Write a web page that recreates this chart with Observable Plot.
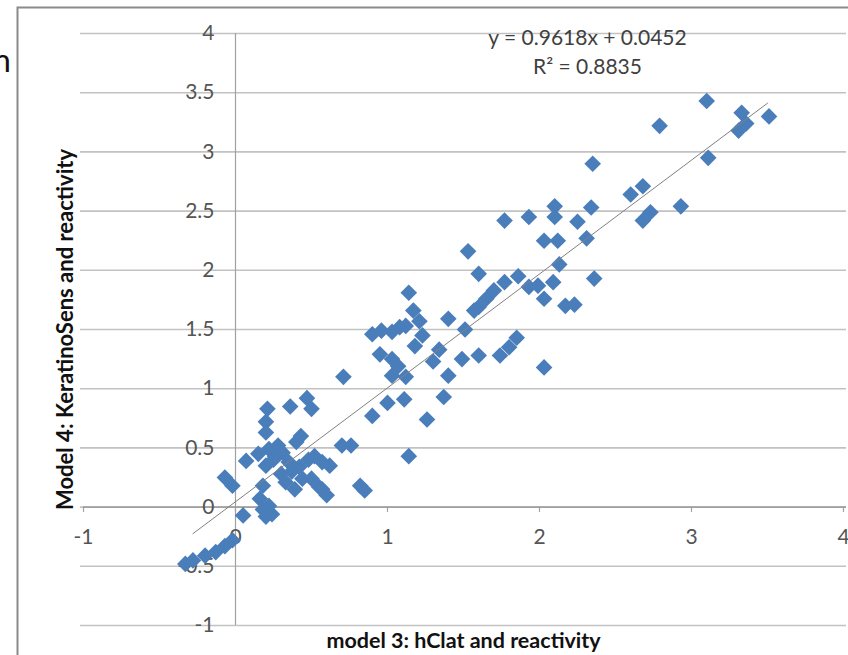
<!DOCTYPE html>
<html><head><meta charset="utf-8">
<script src="https://cdn.jsdelivr.net/npm/d3@7"></script>
<script src="https://cdn.jsdelivr.net/npm/@observablehq/plot@0.6"></script>
<style>body{margin:0;background:#fff;} svg{display:block;overflow:hidden}</style>
</head><body><div id="chart"></div>
<script>
// model 3 (hClat and reactivity) values
const xValues = [3.10, 2.79, 3.33, 3.51, 3.31, 3.36, 3.11, 2.35, 2.93, 2.60, 2.68, 2.68, 2.73, 2.34, 2.25, 2.31, 2.36, 2.23, 2.10, 2.10,
  1.77, 1.93, 2.03, 2.12, 1.53, 1.60, 1.86, 2.13, 2.09, 1.99, 1.93, 2.03, 2.17, 1.77, 1.70, 1.65, 1.60, 1.57, 1.14, 1.17,
  1.21, 1.12, 1.23, 1.18, 0.96, 1.03, 1.08, 0.90, 1.40, 1.51, 0.95, 1.03, 1.07, 1.12, 1.03, 1.34, 1.30, 1.40, 1.49, 1.60,
  1.74, 1.80, 1.85, 2.03, 1.37, 1.00, 1.11, 1.26, 1.14, 0.90, 0.71, 0.70, 0.76, 0.82, 0.85, 0.57, 0.60, 0.55, 0.21, 0.36,
  0.50, 0.47, 0.20, 0.20, 0.43, 0.07, 0.22, 0.26, 0.20, 0.31, 0.35, 0.42, 0.52, 0.57, 0.62, 0.37, 0.44, 0.33, 0.39, 0.50,
  -0.07, -0.02, 0.18, 0.16, 0.22, 0.18, 0.24, 0.20, 0.05, -0.02, -0.07, -0.13, -0.20, -0.28, -0.33, 0.25, 0.28, 0.30, 0.15, 0.48, 0.40];
// model 4 (KeratinoSens and reactivity) values
const yValues = [3.43, 3.22, 3.33, 3.30, 3.18, 3.24, 2.95, 2.90, 2.54, 2.64, 2.71, 2.42, 2.49, 2.53, 2.41, 2.27, 1.93, 1.71, 2.54, 2.45,
  2.42, 2.45, 2.25, 2.25, 2.16, 1.97, 1.95, 2.05, 1.90, 1.87, 1.86, 1.76, 1.70, 1.90, 1.83, 1.76, 1.69, 1.66, 1.81, 1.66,
  1.57, 1.53, 1.45, 1.36, 1.49, 1.48, 1.52, 1.46, 1.59, 1.50, 1.29, 1.25, 1.19, 1.10, 1.11, 1.33, 1.23, 1.11, 1.25, 1.28,
  1.28, 1.35, 1.43, 1.18, 0.93, 0.88, 0.91, 0.74, 0.43, 0.77, 1.10, 0.52, 0.52, 0.18, 0.14, 0.15, 0.10, 0.17, 0.83, 0.85,
  0.83, 0.92, 0.72, 0.63, 0.60, 0.39, 0.49, 0.43, 0.35, 0.46, 0.38, 0.34, 0.43, 0.38, 0.35, 0.30, 0.24, 0.21, 0.15, 0.24,
  0.25, 0.18, 0.18, 0.07, 0.01, -0.02, -0.06, -0.08, -0.07, -0.28, -0.33, -0.38, -0.41, -0.45, -0.48, 0.40, 0.52, 0.28, 0.45, 0.40, 0.55];

const xTicks = [-1, 0, 1, 2, 3, 4];
const xTickLabels = ["-1", "0", "1", "2", "3", "4"];
const yTicks = [-1, -0.5, 0, 0.5, 1, 1.5, 2, 2.5, 3, 3.5, 4];
const yTickLabels = ["-1", "-0.5", "0", "0.5", "1", "1.5", "2", "2.5", "3", "3.5", "4"];

const slope = 0.9618;
const intercept = 0.0452;
const fitRange = [-0.28, 3.5];
const equationLabel = "y = 0.9618x + 0.0452";
const r2Label = "R² = 0.8835";
const xTitle = "model 3: hClat and reactivity";
const yTitle = "Model 4: KeratinoSens and reactivity";
const strayLetter = "n";

const points = xValues.map((x, i) => ({x, y: yValues[i]}));
const fitLine = fitRange.map(x => ({x, y: slope * x + intercept}));

const FONT = "Lato, 'Open Sans', sans-serif";
const tickColor = "#555";

const chart = Plot.plot({
  width: 848,
  height: 655,
  marginLeft: 83,
  marginRight: 5,
  marginTop: 33,
  marginBottom: 30,
  style: {fontFamily: FONT, background: "#fff", overflow: "hidden"},
  x: {domain: [-1, 4], axis: null},
  y: {domain: [-1, 4], axis: null},
  marks: [
    Plot.ruleY(yTicks, {y: d => d, x1: -1.02, x2: 4.02, stroke: "#c2c2c2", strokeWidth: 1.6}),
    Plot.ruleX([0], {y1: -1, y2: 4, stroke: "#a0a0a0", strokeWidth: 1.2}),
    Plot.ruleY([0], {x1: -1, x2: 4.02, stroke: "#a0a0a0", strokeWidth: 1.6}),
    Plot.ruleX(xTicks, {x: d => d, y1: 0, y2: -0.045, stroke: "#a0a0a0", strokeWidth: 1.2}),
    Plot.text(yTicks, {x: 0, y: d => d, text: (d, i) => yTickLabels[i], dx: -21, textAnchor: "end", fontSize: 21, fill: tickColor}),
    Plot.text(xTicks, {x: d => d, y: 0, text: (d, i) => xTickLabels[i], dy: 30, fontSize: 21, fill: tickColor}),
    Plot.dot(points, {x: "x", y: "y", symbol: "diamond2", r: 7.5, fill: "#4a7ebb", stroke: "none"}),
    Plot.line(fitLine, {x: "x", y: "y", stroke: "#808080", strokeWidth: 1}),
    Plot.text([equationLabel], {frameAnchor: "top", lineAnchor: "middle", dx: 124, dy: 5, fontSize: 21, fill: "#404040"}),
    Plot.text([r2Label], {frameAnchor: "top", lineAnchor: "middle", dx: 124, dy: 34, fontSize: 21, fill: "#404040"}),
    Plot.text([xTitle], {frameAnchor: "bottom", lineAnchor: "middle", dy: 16, fontSize: 21.5, fontWeight: "bold", fill: "#111"}),
    Plot.text([yTitle], {frameAnchor: "left", lineAnchor: "middle", textAnchor: "middle", rotate: -90, dx: -18, fontSize: 22, fontWeight: "bold", fill: "#111"})
  ]
});

const svg = d3.select(chart);
svg.append("rect")
  .attr("x", 17.5).attr("y", 7.5).attr("width", 860).attr("height", 680)
  .attr("fill", "none").attr("stroke", "#8a8a8a").attr("stroke-width", 2);
svg.append("text")
  .attr("x", 2).attr("y", 72)
  .attr("font-size", 32).attr("font-family", FONT).attr("fill", "#111")
  .text(strayLetter);

document.getElementById("chart").appendChild(chart);
</script>
</body></html>
